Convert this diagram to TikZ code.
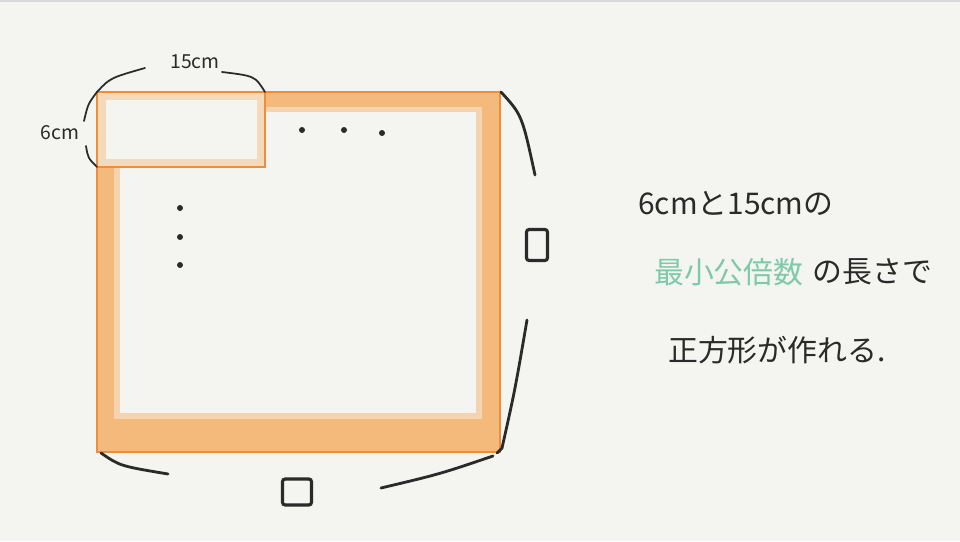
\documentclass[tikz,border=0pt]{standalone}
\usepackage{fontspec}
\newfontfamily\jp{Noto Sans CJK JP}
\usetikzlibrary{positioning}
\definecolor{paper}{HTML}{F4F4F0}
\definecolor{band}{HTML}{F4BA7B}
\definecolor{edgeor}{HTML}{EF8D38}
\definecolor{ink}{HTML}{2A2A2A}
\definecolor{teal}{HTML}{7FC9AB}

\begin{document}
\begin{tikzpicture}[x=0.02cm,y=-0.02cm,
	brace/.style={ink,line width=1.6pt,line cap=round},
	blank/.style={draw=ink,line width=1.8pt,rounded corners=1.5pt,minimum width=0.42cm,minimum height=0.62cm},
	lbl/.style={ink,font=\jp\fontsize{11}{11}\selectfont},
	txt/.style={ink,font=\jp\fontsize{17}{17}\selectfont,anchor=west}]
	\useasboundingbox (0,0) rectangle (960,541);
	\fill[paper] (0,0) rectangle (960,541);
	\draw[gray!30,line width=0.6pt] (0,1) -- (960,1);
	% corners
	\coordinate (a) at (97,92);
	\coordinate (b) at (265,92);
	\coordinate (c) at (265,167);
	\coordinate (d) at (97,167);
	\coordinate (e) at (500,92);
	\coordinate (f) at (500,452);
	\coordinate (g) at (97,452);
	% big square
	\fill[band] (a) rectangle (f);
	\fill[band!55!paper] (114,107) rectangle (482,419);
	\fill[paper] (120,112) rectangle (476,413);
	% small rectangle
	\fill[paper] (a) rectangle (c);
	\fill[band,opacity=0.45] (a) rectangle (c);
	\fill[paper] (106,100) rectangle (257,159);
	\draw[edgeor,line width=1.3pt] (b) -- (e) -- (f) -- (g) -- (d);
	\draw[edgeor,line width=1.3pt] (a) rectangle (c);
	% dots
	\foreach \x/\y in {302/130,344/130,382/133,180/208,180/237,180/265}
		\fill[ink] (\x,\y) circle (3);
	% braces
	\node[lbl] (w) at (195,62) {15cm};
	\node[lbl] (h) at (60,133) {6cm};
	\draw[brace,line width=1pt] (a) .. controls (110,78) .. (145,68);
	\draw[brace,line width=1pt] (b) .. controls (255,76) .. (222,72);
	\draw[brace,line width=1pt] (a) .. controls (88,104) .. (84,121);
	\draw[brace,line width=1pt] (d) .. controls (88,158) .. (86,146);
	\node[blank] (r) at (537,245) {};
	\node[blank,minimum width=0.58cm,minimum height=0.52cm] (s) at (297,492) {};
	\draw[brace] (501,92) .. controls (522,115) .. (535,175);
	\draw[brace] (527,320) .. controls (515,390) .. (502,448) -- (497,453);
	\draw[brace] (101,453) .. controls (120,466) .. (168,474);
	\draw[brace] (381,488) .. controls (440,474) .. (493,456);
	% text
	\node[txt] (t1) at (632,203) {6cmと15cmの};
	\node[txt,text=teal] (t2) at (648,272) {最小公倍数};
	\node[txt,right=-2pt of t2] (t3) {の長さで};
	\node[txt] (t4) at (662,350) {正方形が作れる.};
\end{tikzpicture}
\end{document}
